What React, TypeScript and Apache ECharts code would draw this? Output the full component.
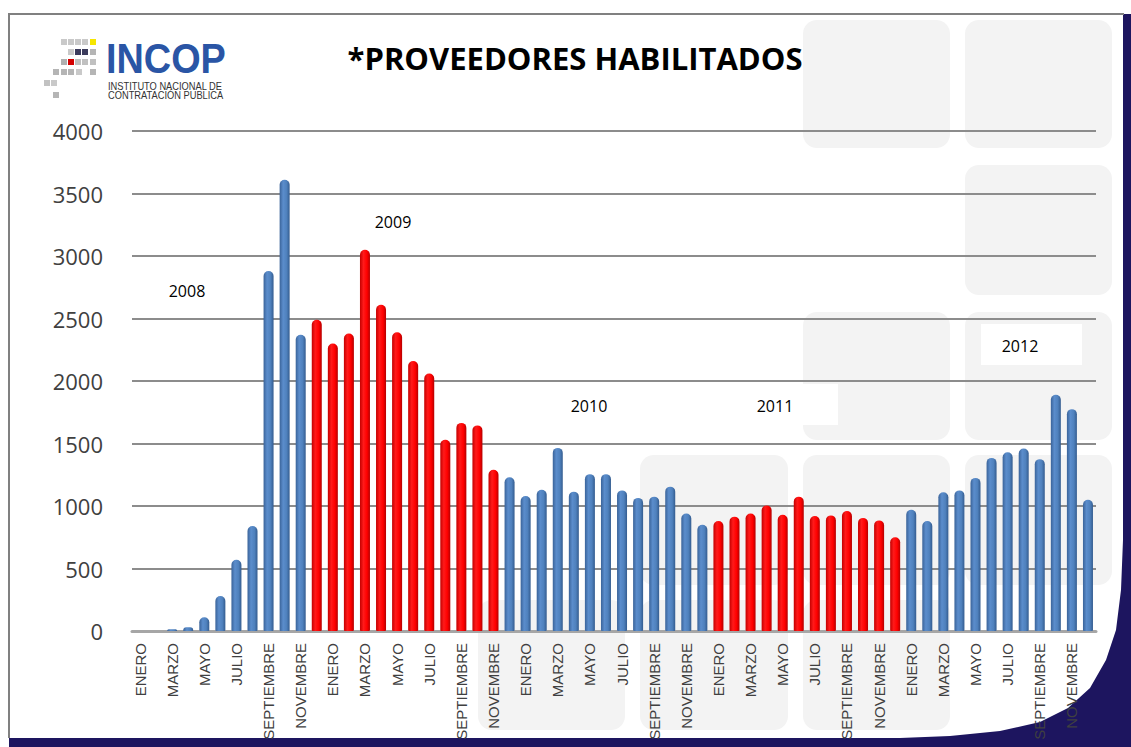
import React, { useEffect, useRef } from "react";
import * as echarts from "echarts";

const months = [
  "ENERO", "FEBRERO", "MARZO", "ABRIL", "MAYO", "JUNIO",
  "JULIO", "AGOSTO", "SEPTIEMBRE", "OCTUBRE", "NOVEMBRE", "DICIEMBRE",
];
const years = ["2008", "2009", "2010", "2011", "2012"];

const v2008 = [0, 0, 15, 30, 110, 280, 570, 840, 2880, 3610, 2370, 2490];
const v2009 = [2300, 2380, 3050, 2610, 2390, 2160, 2060, 1530, 1665, 1645, 1290, 1230];
const v2010 = [1080, 1130, 1465, 1115, 1255, 1255, 1125, 1065, 1075, 1155, 940, 850];
const v2011 = [880, 915, 940, 1005, 930, 1075, 920, 925, 960, 905, 885, 750];
const v2012 = [970, 880, 1110, 1125, 1225, 1385, 1430, 1460, 1375, 1890, 1775, 1050];

// index ranges of bars drawn in red
const redRanges = [
  [11, 22],
  [36, 47],
];

const yMin = 0;
const yMax = 4000;
const yInterval = 500;

const categories = years.flatMap(() => months);
const values = [...v2008, ...v2009, ...v2010, ...v2011, ...v2012];

const NAVY = "#1d155f";

const blueGrad = {
  type: "linear", x: 0, y: 0, x2: 1, y2: 0,
  colorStops: [
    { offset: 0, color: "#3a6399" },
    { offset: 0.35, color: "#5b8dcc" },
    { offset: 0.7, color: "#4f81bd" },
    { offset: 1, color: "#345c8f" },
  ],
};
const redGrad = {
  type: "linear", x: 0, y: 0, x2: 1, y2: 0,
  colorStops: [
    { offset: 0, color: "#c40000" },
    { offset: 0.35, color: "#ff1a1a" },
    { offset: 0.7, color: "#ff0000" },
    { offset: 1, color: "#b50000" },
  ],
};

const isRed = (i: number) => redRanges.some(([a, b]) => i >= a && i <= b);

function buildGraphic() {
  const tiles = [
    [803, 20, 147, 128],
    [965, 20, 147, 128],
    [965, 165, 147, 130],
    [803, 312, 147, 128],
    [965, 312, 147, 128],
    [640, 455, 148, 130],
    [803, 455, 147, 130],
    [965, 455, 147, 130],
    [478, 600, 147, 130],
    [640, 600, 148, 130],
    [803, 600, 147, 130],
  ];
  const els: any[] = [];
  els.push({ type: "rect", z: -20, shape: { x: 9, y: 14, width: 1122, height: 733 }, style: { fill: NAVY } });
  els.push({ type: "rect", z: -19, shape: { x: 9, y: 14, width: 1114, height: 724 }, style: { fill: "#ffffff" } });
  els.push({
    type: "polygon", z: -18,
    shape: {
      points: [
        [1123, 540], [1121, 590], [1116, 630], [1106, 660], [1090, 688], [1068, 708],
        [1040, 722], [1000, 731], [950, 736], [900, 738], [1123, 738],
      ],
    },
    style: { fill: NAVY },
  });
  els.push({ type: "line", z: -17, shape: { x1: 8, y1: 14, x2: 1124, y2: 14 }, style: { stroke: "#808080", lineWidth: 2 } });
  els.push({ type: "line", z: -17, shape: { x1: 9, y1: 14, x2: 9, y2: 738 }, style: { stroke: "#808080", lineWidth: 2 } });
  for (const [x, y, w, h] of tiles) {
    els.push({ type: "rect", z: -15, shape: { x, y, width: w, height: h, r: 14 }, style: { fill: "#f3f3f3" } });
  }
  els.push({ type: "rect", z: -14, shape: { x: 740, y: 384, width: 98, height: 41 }, style: { fill: "#ffffff" } });
  els.push({ type: "rect", z: -14, shape: { x: 981, y: 324, width: 101, height: 41 }, style: { fill: "#ffffff" } });

  const cells: [number, number, string][] = [
    [61, 39, "#c9c9c9"], [68, 39, "#c9c9c9"], [75, 39, "#c9c9c9"], [82, 39, "#c9c9c9"], [90, 39, "#f6e600"],
    [68, 49, "#c9c9c9"], [75, 49, "#3b3b5c"], [82, 49, "#3b3b5c"], [90, 49, "#b5b5b5"],
    [61, 59, "#b0b0b0"], [68, 59, "#d40000"], [75, 59, "#c0c0c0"], [82, 59, "#c0c0c0"], [90, 59, "#c0c0c0"],
    [53, 69, "#b5b5b5"], [61, 69, "#b5b5b5"], [68, 69, "#b5b5b5"], [76, 69, "#c9c9c9"], [90, 69, "#b5b5b5"],
    [44, 80, "#c2c2c2"], [51, 80, "#c9c9c9"],
    [53, 92, "#b5b5b5"],
  ];
  for (const [x, y, c] of cells) {
    els.push({ type: "rect", z: 5, shape: { x, y, width: 6, height: 6 }, style: { fill: c } });
  }
  els.push({
    type: "text", z: 5, x: 106, y: 37, scaleX: 0.88,
    style: { text: "INCOP", fill: "#2a55a5", font: "bold 43px 'Liberation Sans', Arial, sans-serif", textVerticalAlign: "top" },
  });
  els.push({
    type: "text", z: 5, x: 108, y: 81, scaleX: 0.93,
    style: { text: "INSTITUTO NACIONAL DE", fill: "#333333", font: "10px 'Liberation Sans', Arial, sans-serif", textVerticalAlign: "top" },
  });
  els.push({
    type: "text", z: 5, x: 108, y: 90, scaleX: 0.93,
    style: { text: "CONTRATACIÓN PUBLICA", fill: "#333333", font: "10px 'Liberation Sans', Arial, sans-serif", textVerticalAlign: "top" },
  });
  els.push({
    type: "text", z: 5, x: 575, y: 58,
    style: {
      text: "*PROVEEDORES HABILITADOS", fill: "#000000",
      font: "bold 31px 'Open Sans', sans-serif", textAlign: "center", textVerticalAlign: "middle",
    },
  });
  const yearPos = [
    [187, 291], [393, 222], [589, 406], [775, 406], [1020, 346],
  ];
  years.forEach((yr, i) => {
    els.push({
      type: "text", z: 5, x: yearPos[i][0], y: yearPos[i][1],
      style: { text: yr, fill: "#000000", font: "16px 'Open Sans', sans-serif", textAlign: "center", textVerticalAlign: "middle" },
    });
  });
  return els;
}

export default function App() {
  const ref = useRef<HTMLDivElement>(null);
  useEffect(() => {
    if (!ref.current) return;
    const chart = echarts.init(ref.current, null, { renderer: "svg" });
    chart.setOption({
      animation: false,
      backgroundColor: "transparent",
      graphic: { elements: buildGraphic() },
      grid: { left: 132, right: 35, top: 131, bottom: 116, containLabel: false },
      xAxis: {
        type: "category",
        data: categories,
        axisTick: { show: false },
        axisLine: { show: true, lineStyle: { color: "#a6a6a6", width: 3 } },
        axisLabel: {
          interval: 1,
          rotate: 90,
          margin: 12,
          fontSize: 15,
          fontFamily: "'Liberation Sans', Arial, sans-serif",
          color: "#404040",
        },
      },
      yAxis: {
        type: "value",
        min: yMin,
        max: yMax,
        interval: yInterval,
        axisLine: { show: false },
        axisTick: { show: false },
        axisLabel: {
          margin: 29,
          fontSize: 22,
          fontFamily: "'Open Sans', sans-serif",
          color: "#404040",
          formatter: (v: number) => String(v),
        },
        splitLine: { show: true, lineStyle: { color: "#8c8c8c", width: 2 } },
      },
      series: [
        {
          type: "bar",
          barWidth: 10,
          data: values.map((v, i) => ({
            value: v,
            itemStyle: { color: isRed(i) ? redGrad : blueGrad, borderRadius: [5, 5, 1, 1] },
          })),
        },
      ],
    });
    return () => chart.dispose();
  }, []);
  return (
    <div
      ref={ref}
      style={{ position: "fixed", left: 0, top: 0, width: 1131, height: 747, background: "#ffffff" }}
    />
  );
}
